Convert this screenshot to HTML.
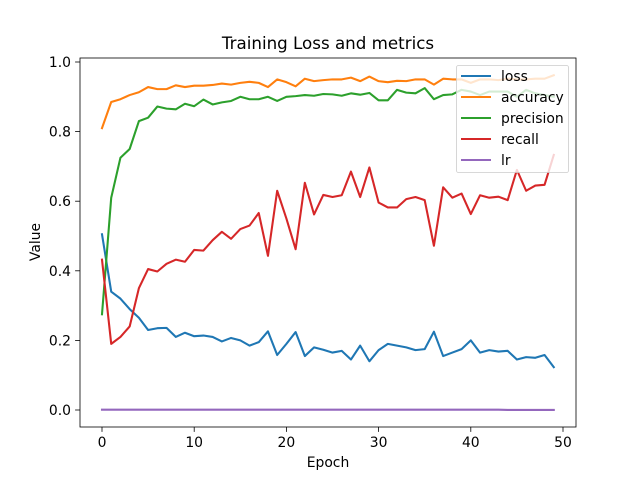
<!DOCTYPE html>
<html><head><meta charset="utf-8"><style>
body{margin:0;background:#fff;}
svg text{font-family:"DejaVu Sans","Liberation Sans",sans-serif;fill:#000;}
</style></head><body>
<svg id="chart" width="640" height="480" xmlns="http://www.w3.org/2000/svg">
<rect width="640" height="480" fill="#fff"/>
<g id="plot"></g>
</svg>
<script>
const epochs = Array.from({length:50},(_,i)=>i);
const lossVals = [0.505,0.34,0.32,0.29,0.265,0.23,0.235,0.236,0.21,0.222,0.212,0.214,0.21,0.197,0.207,0.2,0.185,0.195,0.226,0.158,0.19,0.224,0.155,0.18,0.173,0.165,0.17,0.145,0.185,0.14,0.172,0.19,0.185,0.18,0.172,0.175,0.225,0.155,0.165,0.175,0.2,0.165,0.172,0.168,0.17,0.145,0.152,0.15,0.158,0.123];
const accuracyVals = [0.81,0.885,0.893,0.905,0.913,0.928,0.922,0.922,0.933,0.928,0.932,0.932,0.934,0.938,0.935,0.94,0.943,0.94,0.928,0.95,0.942,0.93,0.952,0.945,0.948,0.95,0.95,0.955,0.945,0.958,0.945,0.942,0.946,0.945,0.95,0.95,0.935,0.952,0.95,0.95,0.94,0.95,0.95,0.948,0.952,0.95,0.95,0.952,0.952,0.962];
const precisionVals = [0.275,0.61,0.725,0.75,0.83,0.84,0.872,0.866,0.864,0.88,0.873,0.892,0.878,0.884,0.888,0.9,0.893,0.893,0.9,0.888,0.9,0.902,0.905,0.903,0.908,0.907,0.903,0.91,0.906,0.911,0.89,0.89,0.92,0.912,0.91,0.925,0.893,0.905,0.907,0.92,0.915,0.905,0.915,0.915,0.915,0.9,0.92,0.91,0.905,0.9];
const recallVals = [0.432,0.19,0.21,0.24,0.35,0.405,0.398,0.42,0.432,0.426,0.46,0.458,0.488,0.512,0.492,0.52,0.53,0.566,0.443,0.63,0.55,0.462,0.653,0.562,0.618,0.612,0.617,0.685,0.612,0.697,0.596,0.582,0.582,0.606,0.612,0.603,0.472,0.64,0.61,0.622,0.563,0.617,0.61,0.613,0.603,0.69,0.63,0.645,0.647,0.733];
const lrVals = [0.001,0.001,0.001,0.001,0.001,0.001,0.001,0.001,0.001,0.001,0.001,0.001,0.001,0.001,0.001,0.001,0.001,0.001,0.001,0.001,0.001,0.001,0.001,0.001,0.001,0.001,0.001,0.001,0.001,0.001,0.001,0.001,0.001,0.001,0.001,0.001,0.001,0.001,0.001,0.001,0.001,0.001,0.001,0.001,0.0001,0.0001,0.0001,0.0001,0.0001,0.0001];
const xTicks = [0,10,20,30,40,50];
const yTicks = [0.0,0.2,0.4,0.6,0.8,1.0];
const seriesNames = ["loss","accuracy","precision","recall","lr"];

const colors = ["#1f77b4","#ff7f0e","#2ca02c","#d62728","#9467bd"];
const allSeries = [lossVals,accuracyVals,precisionVals,recallVals,lrVals];
const L=80,R=576,T=58,B=427;
const xs = v => 102 + (563-102)*v/50;
const ys = v => 410 - 348*v;
const NS="http://www.w3.org/2000/svg";
const g=document.getElementById('plot');
function mk(tag,attrs,parent){const e=document.createElementNS(NS,tag);for(const k in attrs)e.setAttribute(k,attrs[k]);(parent||g).appendChild(e);return e;}

allSeries.forEach((vals,si)=>{
  const pts=vals.map((v,i)=>xs(epochs[i]).toFixed(2)+","+ys(v).toFixed(2)).join(" ");
  const pl=mk('polyline',{points:pts,fill:'none',stroke:colors[si],'stroke-width':2.08,'stroke-linejoin':'round','stroke-linecap':'square'});
  
  
});

const frame=mk('rect',{x:L,y:T,width:R-L,height:B-T,fill:'none',stroke:'#000','stroke-width':0.8});



xTicks.forEach(t=>{
  const x=xs(t);
  const tk=mk('line',{x1:x,x2:x,y1:B,y2:B+4.9,stroke:'#000','stroke-width':0.8});
  
  
  const tx=mk('text',{x:x,y:B+20,'text-anchor':'middle','font-size':'13.9px'});
  tx.textContent=t;
  
  
});
yTicks.forEach(t=>{
  const y=ys(t);
  const tk=mk('line',{x1:L-4.9,x2:L,y1:y,y2:y,stroke:'#000','stroke-width':0.8});
  
  
  const tx=mk('text',{x:L-9,y:y+5,'text-anchor':'end','font-size':'13.9px'});
  tx.textContent=t.toFixed(1);
  
  
});
const title=mk('text',{x:328,y:49,'text-anchor':'middle','font-size':'16.7px'});
title.textContent='Training Loss and metrics';


const xl=mk('text',{x:328,y:467,'text-anchor':'middle','font-size':'13.9px'});
xl.textContent='Epoch';


const yl=mk('text',{x:0,y:0,'text-anchor':'middle','font-size':'13.9px',transform:'translate(40,242) rotate(-90)'});
yl.textContent='Value';



const lg=mk('g',{});


mk('rect',{x:456.5,y:65.5,width:112,height:107,rx:2,fill:'#fff','fill-opacity':0.8,stroke:'#ccc','stroke-width':0.8},lg);
seriesNames.forEach((n,i)=>{
  const y=76+21*i;
  const eg=mk('g',{},lg);
  
  
  mk('line',{x1:461,x2:491,y1:y,y2:y,stroke:colors[i],'stroke-width':2.08},eg);
  const t=mk('text',{x:501,y:y+5,'font-size':'13.9px'},eg);
  t.textContent=n;
});
</script>
</body></html>
